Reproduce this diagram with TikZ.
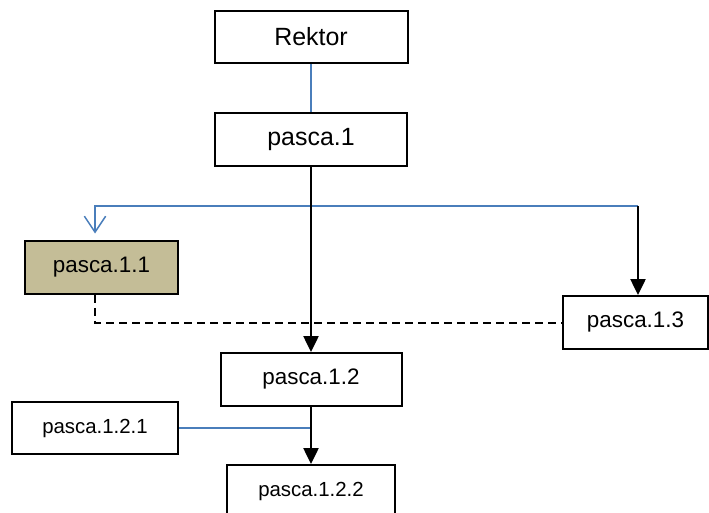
\documentclass[tikz,border=0pt]{standalone}
\usepackage{fontspec}
\setmainfont{Liberation Sans}
\usetikzlibrary{arrows.meta}

\definecolor{linkblue}{HTML}{4A7EBB}
\definecolor{tan}{HTML}{C4BD97}

\tikzset{
  unit/.style={draw, line width=1.5pt, inner sep=0pt, minimum height=39.5pt},
  big/.style={font=\fontsize{18.7}{20}\selectfont},
  mid/.style={font=\fontsize{16.8}{18}\selectfont},
  small/.style={font=\fontsize{15.3}{17}\selectfont},
  blueline/.style={draw=linkblue, line width=1.1pt},
  boldarrow/.style={line width=2.2pt, -{Triangle[width=11pt, length=12pt]}},
}

\begin{document}
\begin{tikzpicture}[x=0.75pt, y=-0.75pt]

\useasboundingbox (0, 0) rectangle (709, 513);

% Boxes
\node[unit, big, minimum width=144.75pt] (rektor) at (311, 37) {Rektor};
\node[unit, big, minimum width=144pt] (p1) at (311, 139.5) {pasca.1};
\node[unit, mid, fill=tan, minimum width=114.75pt] (p11) at (101.5, 267.5) {pasca.1.1};
\node[unit, mid, minimum width=108.75pt] (p13) at (635.5, 322.5) {pasca.1.3};
\node[unit, mid, minimum width=135.75pt] (p12) at (311, 379.5) {pasca.1.2};
\node[unit, small, minimum width=124.5pt] (p121) at (95, 428) {pasca.1.2.1};
\node[unit, small, minimum width=126pt] (p122) at (311, 491.5) {pasca.1.2.2};

% Branch points
\coordinate (fork) at (638, 206);
\coordinate (bend) at (95, 206);

% Lines
\draw[blueline] (rektor) -- (p1);
\draw[blueline, -{Straight Barb[width=16pt, length=12pt]}, shorten >=5pt]
  (fork) -- (bend) -- (bend |- p11.north);
\draw[boldarrow] (fork) -- (fork |- p13.north);
\draw[boldarrow] (p1) -- (p12);
\draw[line width=1.5pt, dash pattern=on 6pt off 3.75pt]
  (p11.south -| bend) -- (bend |- p13.west) -- (p13.west);
\draw[blueline] (p121.east) -- (p121.east -| p12.south);
\draw[boldarrow] (p12) -- (p122);

\end{tikzpicture}
\end{document}
